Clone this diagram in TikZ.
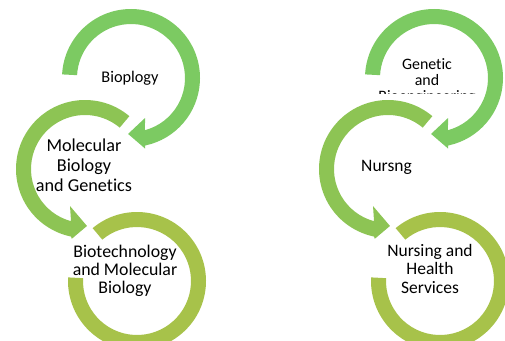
\documentclass[tikz,border=0pt]{standalone}
\usepackage{fontspec}
\setmainfont[Ligatures={NoCommon,NoRare}]{Carlito}
\definecolor{ca}{RGB}{124,202,98}
\definecolor{cb}{RGB}{141,196,84}
\definecolor{cc}{RGB}{167,194,74}
\newcommand{\ringset}{%
  \begin{scope}[shift={(131,-78)}]
    \fill[ca] (177:69) arc[start angle=177,end angle=-78.3,radius=69]
      -- (-78.7:72) -- (-93:56) -- (-70.7:42.4) -- (-75:54)
      arc[start angle=-75,end angle=177,radius=54] -- cycle;
  \end{scope}
  \begin{scope}[shift={(85,-169)}]
    \fill[cb] (50:69) arc[start angle=50,end angle=258.3,radius=69]
      -- (259.3:71) -- (272:57) -- (248:40) -- (255:54)
      arc[start angle=255,end angle=50,radius=54] -- cycle;
  \end{scope}
  \begin{scope}[shift={(137,-281)}]
    \fill[cc] (130:69) arc[start angle=130,end angle=-183,radius=69]
      -- (-183:54) arc[start angle=-183,end angle=130,radius=54] -- cycle;
  \end{scope}}
\begin{document}
\begin{tikzpicture}[x=1pt,y=1pt,
  lbl/.style={align=center,inner sep=0pt,anchor=base,text=black},
  fa/.style={font={\fontsize{16.3}{17}\selectfont}},
  fb/.style={font={\fontsize{18.2}{20}\selectfont}},
  fc/.style={font={\fontsize{17.8}{18}\selectfont}},
  fd/.style={font={\fontsize{15.9}{16}\selectfont}},
  fe/.style={font={\fontsize{17.5}{18.5}\selectfont}}]
\useasboundingbox (0,-340) rectangle (505,0);
\ringset
\begin{scope}[xshift=303]
\ringset
\end{scope}
\node[lbl,fa] (bio) at (130,-82) {Bioplogy};
\node[lbl,fb] (mol) at (84,-191) {Molecular\\Biology\\and Genetics};
\node[lbl,fc] (biot) at (125,-293) {Biotechnology\\and Molecular\\Biology};
\begin{scope}
\clip (300,-93.3) rectangle (505,0);
\node[lbl,fd] (gen) at (427,-101) {Genetic\\and\\Bioengineering};
\end{scope}
\node[lbl,fe] (nurs) at (386.5,-171) {Nursng};
\node[lbl,fe] (nhs) at (430,-293) {Nursing and\\Health\\Services};
\end{tikzpicture}
\end{document}
